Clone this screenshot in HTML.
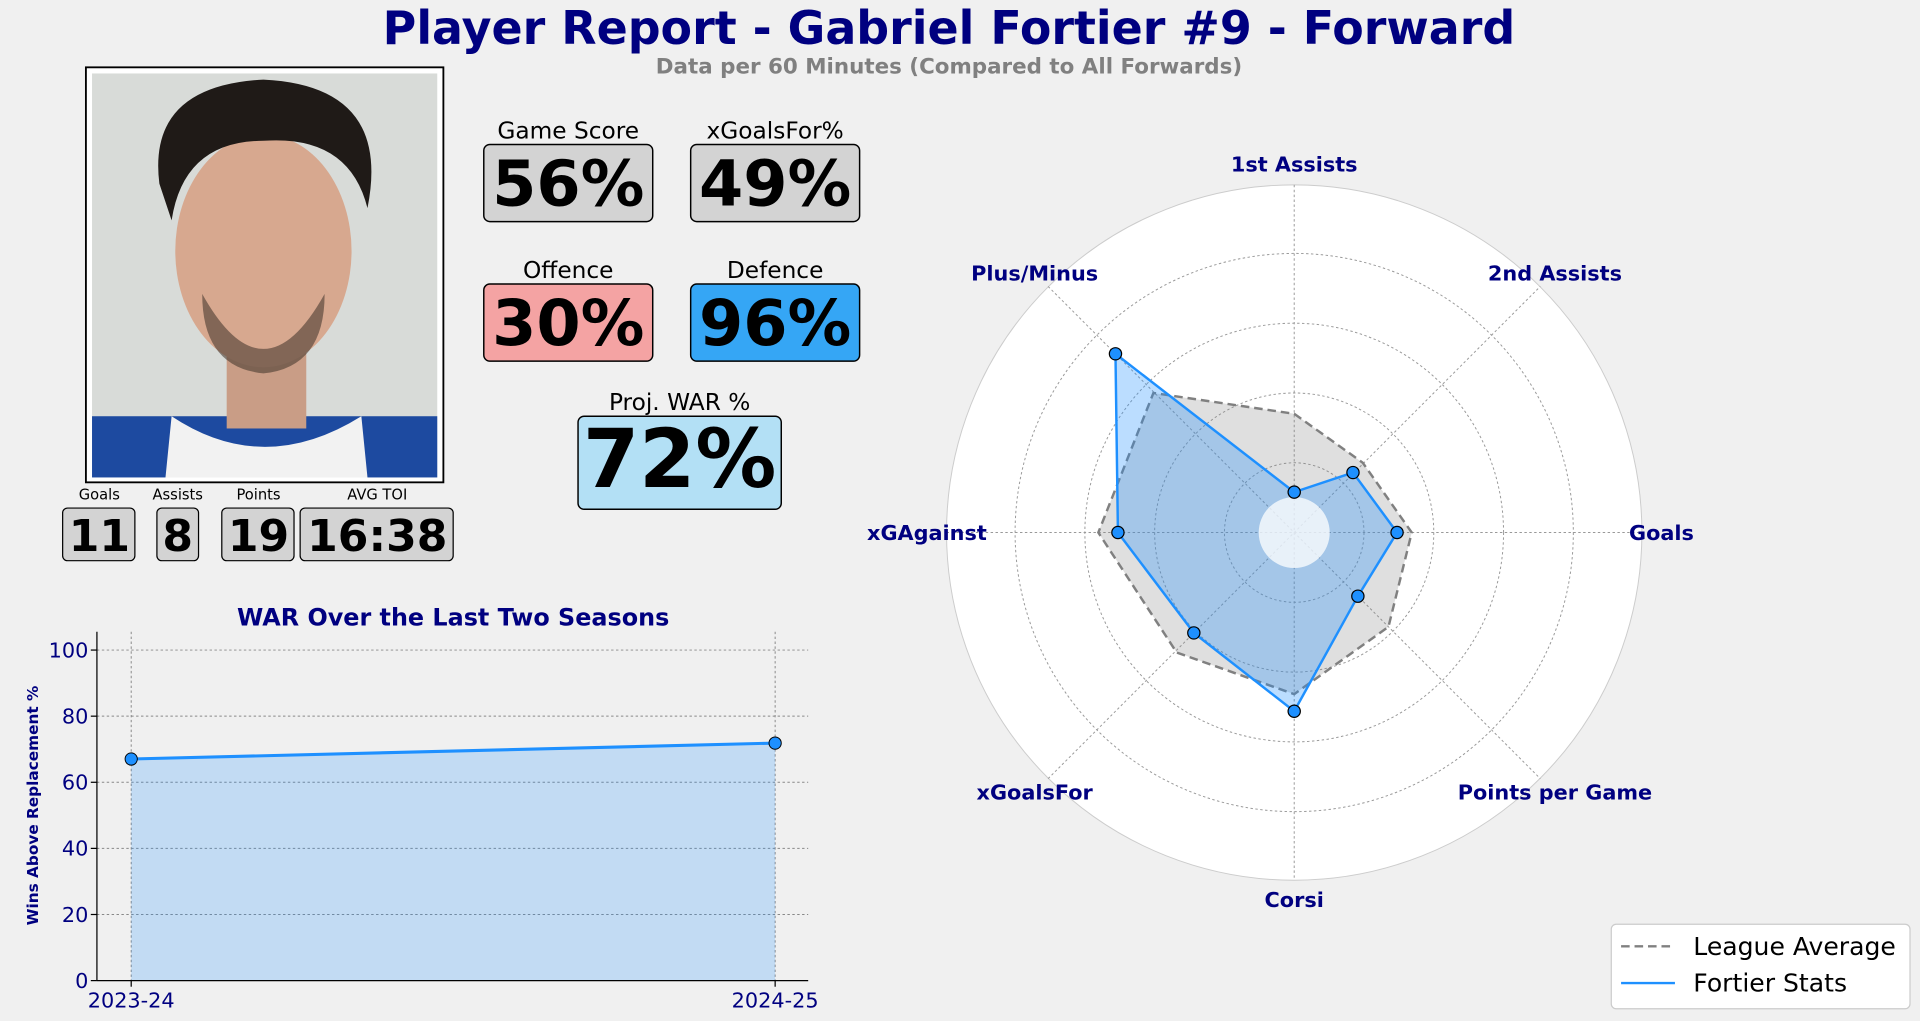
<!DOCTYPE html>
<html><head><style>
html,body{margin:0;padding:0;background:#f0f0f0;}
svg{display:block;font-family:"DejaVu Sans","Liberation Sans",sans-serif;}
</style></head><body>
<svg width="1920" height="1021" viewBox="0 0 1568 834" xmlns="http://www.w3.org/2000/svg">
<rect width="1568" height="834" fill="#f0f0f0"/>
<text x="775" y="36" text-anchor="middle" font-size="37.5" font-weight="bold" fill="#000080">Player Report - Gabriel Fortier #9 - Forward</text>
<text x="775" y="60" text-anchor="middle" font-size="17.5" font-weight="bold" fill="#808080">Data per 60 Minutes (Compared to All Forwards)</text>

<!-- photo -->
<rect x="70" y="55" width="292" height="339" fill="#fff" stroke="#000" stroke-width="1.5"/>
<rect x="75" y="60" width="282" height="330" fill="#d8dbd8"/>
<rect x="75" y="340" width="282" height="50" fill="#1d4aa0"/>
<path d="M140 340 Q215 390 295 340 L300 390 L135 390 Z" fill="#f2f2f2"/>
<rect x="185" y="270" width="65" height="80" fill="#c99d86"/>
<ellipse cx="215" cy="205" rx="72" ry="95" fill="#d7a88f"/>
<path d="M130 150 Q120 70 215 65 Q320 70 300 170 Q285 110 215 115 Q150 115 140 180 Z" fill="#1f1a17"/>
<path d="M165 240 Q215 330 265 240 Q265 300 215 305 Q165 300 165 240Z" fill="#4a3a30" opacity="0.6"/>

<!-- stat boxes -->
<g font-size="19" text-anchor="middle" fill="#000">
<text x="464" y="113">Game Score</text>
<text x="633" y="113">xGoalsFor%</text>
<text x="464" y="227">Offence</text>
<text x="633" y="227">Defence</text>
<text x="555" y="335">Proj. WAR %</text>
</g>
<rect x="395" y="118" width="138" height="63" rx="5" fill="#d3d3d3" stroke="#000" stroke-width="1.2"/>
<rect x="564" y="118" width="138" height="63" rx="5" fill="#d3d3d3" stroke="#000" stroke-width="1.2"/>
<rect x="395" y="232" width="138" height="63" rx="5" fill="#f4a3a3" stroke="#000" stroke-width="1.2"/>
<rect x="564" y="232" width="138" height="63" rx="5" fill="#35a6f5" stroke="#000" stroke-width="1.2"/>
<rect x="472" y="340" width="166" height="76" rx="5" fill="#b3e0f5" stroke="#000" stroke-width="1.2"/>
<g font-size="52" font-weight="bold" text-anchor="middle" fill="#000">
<text x="464" y="168">56%</text>
<text x="633" y="168">49%</text>
<text x="464" y="282">30%</text>
<text x="633" y="282">96%</text>
<text x="555" y="398" font-size="66">72%</text>
</g>

<g font-size="12" text-anchor="middle" fill="#000">
<text x="81" y="408">Goals</text>
<text x="145" y="408">Assists</text>
<text x="211" y="408">Points</text>
<text x="308" y="408">AVG TOI</text>
</g>
<rect x="51" y="415" width="59" height="43" rx="4" fill="#d3d3d3" stroke="#000"/>
<rect x="128" y="415" width="34" height="43" rx="4" fill="#d3d3d3" stroke="#000"/>
<rect x="181" y="415" width="59" height="43" rx="4" fill="#d3d3d3" stroke="#000"/>
<rect x="245" y="415" width="125" height="43" rx="4" fill="#d3d3d3" stroke="#000"/>
<g font-size="36" font-weight="bold" text-anchor="middle" fill="#000">
<text x="81" y="450">11</text>
<text x="145" y="450">8</text>
<text x="211" y="450">19</text>
<text x="308" y="450">16:38</text>
</g>

<!-- WAR chart -->
<text x="370" y="511" text-anchor="middle" font-size="19.5" font-weight="bold" fill="#000080">WAR Over the Last Two Seasons</text>
<g stroke="#888" stroke-width="0.8" stroke-dasharray="2,2">
<line x1="79" x2="660" y1="531" y2="531"/><line x1="79" x2="660" y1="585" y2="585"/>
<line x1="79" x2="660" y1="639" y2="639"/><line x1="79" x2="660" y1="693" y2="693"/>
<line x1="79" x2="660" y1="747" y2="747"/>
<line x1="107" x2="107" y1="516" y2="801"/><line x1="633" x2="633" y1="516" y2="801"/>
</g>
<polygon points="107,620 633,607 633,801 107,801" fill="#1e90ff" fill-opacity="0.22"/>
<line x1="107" y1="620" x2="633" y2="607" stroke="#1e90ff" stroke-width="2.5"/>
<circle cx="107" cy="620" r="5" fill="#1e90ff" stroke="#000" stroke-width="0.8"/>
<circle cx="633" cy="607" r="5" fill="#1e90ff" stroke="#000" stroke-width="0.8"/>
<line x1="79" y1="516" x2="79" y2="801" stroke="#000" stroke-width="1"/>
<line x1="79" y1="801" x2="660" y2="801" stroke="#000" stroke-width="1"/>
<g font-size="17" fill="#000080" text-anchor="end">
<text x="72" y="537">100</text><text x="72" y="591">80</text><text x="72" y="645">60</text>
<text x="72" y="699">40</text><text x="72" y="753">20</text><text x="72" y="807">0</text>
</g>
<g stroke="#000"><line x1="74" x2="79" y1="531" y2="531"/><line x1="74" x2="79" y1="585" y2="585"/><line x1="74" x2="79" y1="639" y2="639"/><line x1="74" x2="79" y1="693" y2="693"/><line x1="74" x2="79" y1="747" y2="747"/><line x1="74" x2="79" y1="801" y2="801"/><line x1="107" x2="107" y1="801" y2="806"/><line x1="633" x2="633" y1="801" y2="806"/></g>
<g font-size="17" fill="#000080" text-anchor="middle">
<text x="107" y="823">2023-24</text><text x="633" y="823">2024-25</text>
</g>
<text transform="translate(31,658) rotate(-90)" text-anchor="middle" font-size="12.5" font-weight="bold" fill="#000080">Wins Above Replacement %</text>

<!-- radar -->
<circle cx="1057" cy="435" r="284" fill="#fff" stroke="#ccc" stroke-width="0.8"/>
<g fill="none" stroke="#999" stroke-width="0.8" stroke-dasharray="2,2">
<circle cx="1057" cy="435" r="57"/><circle cx="1057" cy="435" r="114"/>
<circle cx="1057" cy="435" r="171"/><circle cx="1057" cy="435" r="228"/>
<line x1="1057" y1="151" x2="1057" y2="719"/><line x1="773" y1="435" x2="1341" y2="435"/>
<line x1="856" y1="234" x2="1258" y2="636"/><line x1="856" y1="636" x2="1258" y2="234"/>
</g>
<polygon points="1057,338 1113,378 1153,435 1134,512 1057,567 961,533 897,435 942,321" fill="#808080" fill-opacity="0.25" stroke="#808080" stroke-width="2" stroke-dasharray="7,4"/>
<polygon points="1057,402 1105,386 1141,435 1109,487 1057,581 975,517 913,435 911,289" fill="#1e90ff" fill-opacity="0.3" stroke="#1e90ff" stroke-width="2"/>
<circle cx="1057" cy="435" r="29" fill="#fff" fill-opacity="0.75"/>
<g fill="#1e90ff" stroke="#000" stroke-width="1">
<circle cx="1057" cy="402" r="5"/><circle cx="1105" cy="386" r="5"/><circle cx="1141" cy="435" r="5"/><circle cx="1109" cy="487" r="5"/>
<circle cx="1057" cy="581" r="5"/><circle cx="975" cy="517" r="5"/><circle cx="913" cy="435" r="5"/><circle cx="911" cy="289" r="5"/>
</g>
<g font-size="17" font-weight="bold" fill="#000080" text-anchor="middle">
<text x="1057" y="140">1st Assists</text>
<text x="1270" y="229">2nd Assists</text>
<text x="1357" y="441">Goals</text>
<text x="1270" y="653">Points per Game</text>
<text x="1057" y="741">Corsi</text>
<text x="845" y="653">xGoalsFor</text>
<text x="757" y="441">xGAgainst</text>
<text x="845" y="229">Plus/Minus</text>
</g>

<!-- legend -->
<rect x="1316" y="755" width="244" height="69" rx="4" fill="#fff" stroke="#ccc"/>
<line x1="1324" y1="773" x2="1368" y2="773" stroke="#808080" stroke-width="2" stroke-dasharray="7,4"/>
<line x1="1324" y1="803" x2="1368" y2="803" stroke="#1e90ff" stroke-width="2"/>
<text x="1383" y="780" font-size="20.5" fill="#000">League Average</text>
<text x="1383" y="810" font-size="20.5" fill="#000">Fortier Stats</text>
</svg>
</body></html>
